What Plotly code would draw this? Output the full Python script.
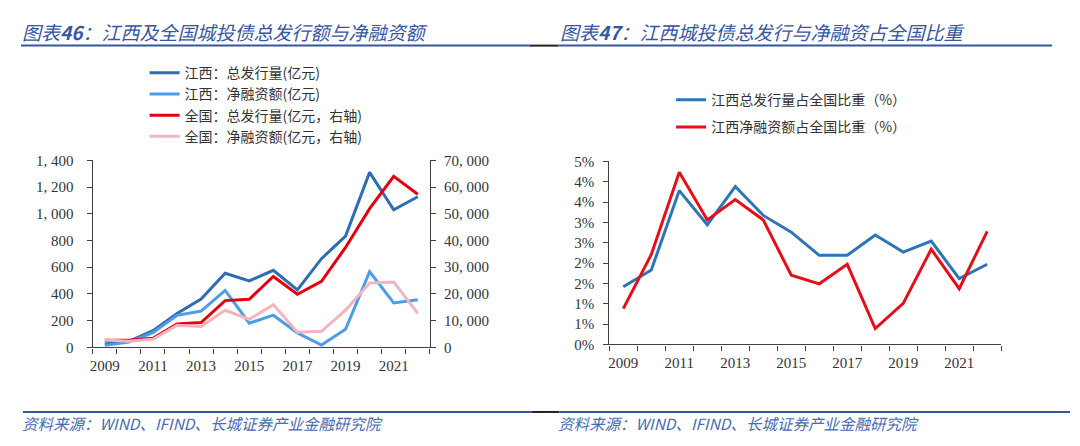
import plotly.graph_objects as go

W, H = 1080, 446

years = list(range(2009, 2023))

# 左图：江西（左轴，亿元）与全国（右轴，亿元）
jx_issue = [25, 45, 125, 253, 362, 555, 497, 577, 430, 664, 833, 1310, 1030, 1127]
jx_net = [15, 40, 110, 240, 272, 427, 181, 241, 108, 17, 135, 567, 333, 357]
cn_issue = [2650, 2650, 3400, 8800, 9300, 17500, 18000, 26550, 19900, 24700, 37400, 51900, 64000, 57300]
cn_net = [2800, 2300, 3000, 8300, 7800, 13900, 10500, 16000, 5700, 6000, 13900, 24100, 24500, 12700]

# 右图：江西占全国比重（%）
share_issue = [1.42, 1.83, 3.78, 2.94, 3.88, 3.17, 2.76, 2.19, 2.19, 2.69, 2.27, 2.54, 1.62, 1.97]
share_net = [0.88, 2.21, 4.23, 3.06, 3.56, 3.06, 1.70, 1.49, 1.97, 0.39, 1.01, 2.34, 1.37, 2.78]

left_ticks = [0, 200, 400, 600, 800, 1000, 1200, 1400]
left_ticktext = ["0", "200", "400", "600", "800", "1, 000", "1, 200", "1, 400"]
right_ticks = [0, 10000, 20000, 30000, 40000, 50000, 60000, 70000]
right_ticktext = ["0", "10, 000", "20, 000", "30, 000", "40, 000", "50, 000", "60, 000", "70, 000"]
pct_ticks = [0, 0.5, 1.0, 1.5, 2.0, 2.5, 3.0, 3.5, 4.0, 4.5]
pct_ticktext = ["0%", "1%", "1%", "2%", "2%", "3%", "3%", "4%", "4%", "5%"]
year_labels = [2009, 2011, 2013, 2015, 2017, 2019, 2021]

title_left = "图表<b>46</b>：江西及全国城投债总发行额与净融资额"
title_right = "图表<b>47</b>：江西城投债总发行与净融资占全国比重"
source = "资料来源：WIND、IFIND、长城证券产业金融研究院"

def px(x):
    return x / W

def py(y):
    return 1 - y / H

CJK = "Noto Sans CJK SC"
SERIF = "Liberation Serif"
AX = "#404040"
TITLE_C = "#3556A0"

fig = go.Figure()

fig.add_trace(go.Scatter(x=years, y=jx_issue, name="江西：总发行量(亿元)", mode="lines",
                         line=dict(color="#2E6DB4", width=3), xaxis="x", yaxis="y", legend="legend"))
fig.add_trace(go.Scatter(x=years, y=jx_net, name="江西：净融资额(亿元)", mode="lines",
                         line=dict(color="#4A9DE8", width=3), xaxis="x", yaxis="y", legend="legend"))
fig.add_trace(go.Scatter(x=years, y=cn_issue, name="全国：总发行量(亿元，右轴)", mode="lines",
                         line=dict(color="#E3000F", width=3), xaxis="x", yaxis="y2", legend="legend"))
fig.add_trace(go.Scatter(x=years, y=cn_net, name="全国：净融资额(亿元，右轴)", mode="lines",
                         line=dict(color="#F4B3BE", width=3), xaxis="x", yaxis="y2", legend="legend"))

fig.add_trace(go.Scatter(x=years, y=share_issue, name="江西总发行量占全国比重（%）", mode="lines",
                         line=dict(color="#2E75B6", width=3), xaxis="x2", yaxis="y3",
                         legend="legend2", legendgroup="a"))
fig.add_trace(go.Scatter(x=years, y=share_net, name="江西净融资额占全国比重（%）", mode="lines",
                         line=dict(color="#E3101A", width=3), xaxis="x2", yaxis="y3",
                         legend="legend2", legendgroup="b"))

tickfont = dict(family=SERIF, size=15, color="#333333")

def xaxis(domain, anchor):
    return dict(domain=domain, anchor=anchor, range=[2008.5, 2022.5],
                tickmode="array", tickvals=year_labels, ticks="", showgrid=False,
                zeroline=False, showline=True, linecolor=AX, linewidth=1.3,
                tickfont=tickfont, ticklabelstandoff=4,
                minor=dict(tick0=2008.5, dtick=1, ticks="outside", ticklen=5,
                           tickcolor=AX, tickwidth=1.3, showgrid=False))

fig.update_layout(
    width=W, height=H, autosize=False,
    margin=dict(l=0, r=0, t=0, b=0),
    paper_bgcolor="white", plot_bgcolor="white",
    showlegend=True,
    xaxis=xaxis([px(90), px(428)], "y"),
    yaxis=dict(domain=[py(352), py(158)], anchor="x", range=[0, 1400],
               tickmode="array", tickvals=left_ticks, ticktext=left_ticktext,
               ticks="outside", ticklen=5, tickcolor=AX, tickwidth=1.3,
               showline=True, linecolor=AX, linewidth=1.3, showgrid=False,
               zeroline=False, tickfont=tickfont, ticklabelstandoff=10),
    yaxis2=dict(overlaying="y", side="right", anchor="x", range=[0, 70000],
                tickmode="array", tickvals=right_ticks, ticktext=right_ticktext,
                ticks="outside", ticklen=5, tickcolor=AX, tickwidth=1.3,
                showline=True, linecolor=AX, linewidth=1.3, showgrid=False,
                zeroline=False, tickfont=tickfont, ticklabelstandoff=5),
    xaxis2=xaxis([px(608), px(1001)], "y3"),
    yaxis3=dict(domain=[py(349), py(159)], anchor="x2", range=[0, 4.5],
                tickmode="array", tickvals=pct_ticks, ticktext=pct_ticktext,
                ticks="outside", ticklen=5, tickcolor=AX, tickwidth=1.3,
                showline=True, linecolor=AX, linewidth=1.3, showgrid=False,
                zeroline=False, tickfont=tickfont, ticklabelstandoff=6),
    legend=dict(x=px(142), y=py(51), xanchor="left", yanchor="top",
                bgcolor="rgba(0,0,0,0)", font=dict(family=CJK, size=14, color="#333333"),
                tracegroupgap=0, itemclick=False),
    legend2=dict(x=px(670), y=py(79), xanchor="left", yanchor="top",
                 bgcolor="rgba(0,0,0,0)", font=dict(family=CJK, size=14, color="#333333"),
                 traceorder="grouped", tracegroupgap=6, itemclick=False),
)

# Titles & source lines
for x0, txt in [(17, title_left), (557, title_right)]:
    fig.add_annotation(x=px(x0), y=py(24), xref="paper", yref="paper", xanchor="left",
                       yanchor="middle", text=txt, showarrow=False,
                       font=dict(family=CJK, size=19, color=TITLE_C, style="italic"))
for x0 in [17, 555]:
    fig.add_annotation(x=px(x0), y=py(430), xref="paper", yref="paper", xanchor="left",
                       yanchor="middle", text=source, showarrow=False,
                       font=dict(family=CJK, size=15.5, color="#4A6BB0", style="italic"))

for yy, segs in [(39, [(18, 528, TITLE_C), (528, 557, "#222222"), (557, 1052, TITLE_C)]),
                 (419, [(20, 530, TITLE_C), (530, 558, "#222222"), (558, 1070, TITLE_C)])]:
    for a, b, c in segs:
        fig.add_shape(type="line", xref="paper", yref="paper", x0=px(a), x1=px(b),
                      y0=py(yy), y1=py(yy), line=dict(color=c, width=2))

fig.write_html("out.html", config={"displayModeBar": False},
               post_script="document.documentElement.style.margin='0';document.body.style.margin='0';"
                           "document.documentElement.style.overflow='hidden';document.body.style.overflow='hidden';")
